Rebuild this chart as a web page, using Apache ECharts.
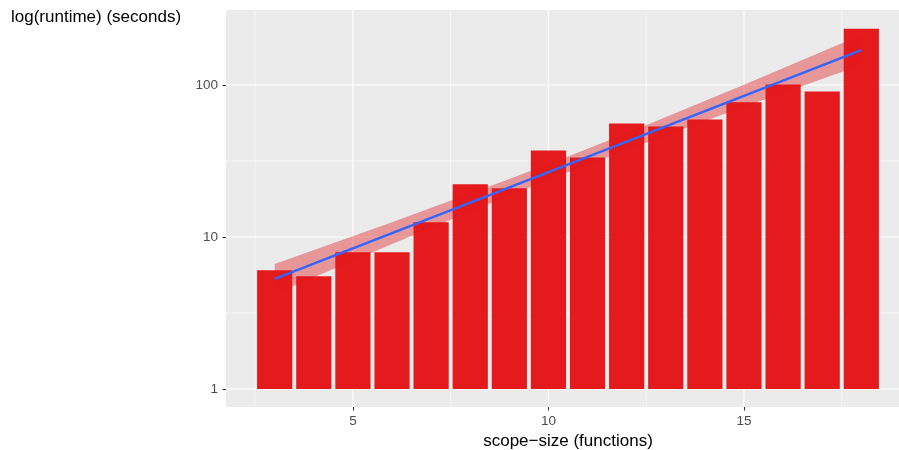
<!DOCTYPE html>
<html>
<head>
<meta charset="utf-8">
<script src="https://cdn.jsdelivr.net/npm/echarts@6/dist/echarts.min.js"></script>
<style>
  html, body { margin: 0; padding: 0; background: #ffffff; }
  #chart { width: 899px; height: 450px; }
</style>
</head>
<body>
<div id="chart"></div>
<script>
// Runtime per scope size (seconds)
const scopeSize = [3, 4, 5, 6, 7, 8, 9, 10, 11, 12, 13, 14, 15, 16, 17, 18];
const runtime   = [6.04, 5.52, 7.94, 7.94, 12.5, 22.2, 20.9, 37.1, 33.4, 55.8, 53.3, 59.3, 76.9, 100.6, 90.5, 234.6];

// Linear fit on the log scale, with its confidence band
const fitX = [3, 18];
const fitY = [5.30, 169.8];
const bandX    = [3, 6, 9, 10.5, 12, 15, 18];
const bandLow  = [4.22, 8.98, 18.72, 26.64, 37.44, 71.9, 135.3];
const bandHigh = [6.65, 12.51, 24.03, 33.79, 48.07, 100.2, 213.1];

// Axis breaks
const xTicks = [5, 10, 15];
const xMinor = [2.5, 7.5, 12.5, 17.5];
const yTicks = [1, 10, 100];
const yMinor = [3.162, 31.62];

const xMin = 1.755, xMax = 19.245;
const yMin = 0.761, yMax = 311.5;

const FONT = '"Liberation Sans", Arial, Helvetica, sans-serif';
const chart = echarts.init(document.getElementById('chart'), null, { renderer: 'canvas' });

// panel grid lines: [orientation, value, width]  (0 = vertical, 1 = horizontal)
const gridLines = [].concat(
  xMinor.map(v => [0, v, 0.6]),
  yMinor.map(v => [1, v, 0.6]),
  xTicks.map(v => [0, v, 1.2]),
  yTicks.map(v => [1, v, 1.2])
);

chart.setOption({
  animation: false,
  backgroundColor: '#ffffff',
  title: {
    text: 'log(runtime) (seconds)',
    left: 11,
    top: 9,
    padding: 0,
    textStyle: { fontFamily: FONT, fontSize: 17, fontWeight: 'normal', color: '#000000' }
  },
  grid: {
    left: 226, right: -11, top: 10, bottom: 43,
    outerBoundsMode: 'none',
    containLabel: false,
    show: true, backgroundColor: '#EBEBEB', borderWidth: 0
  },
  xAxis: {
    type: 'value',
    min: xMin, max: xMax,
    name: 'scope\u2212size (functions)',
    nameLocation: 'middle',
    nameGap: 24,
    nameTextStyle: { fontFamily: FONT, fontSize: 17, color: '#000000' },
    axisLine: { show: false },
    axisTick: { show: true, length: 3.5, lineStyle: { color: '#333333', width: 1.1 }, customValues: xTicks },
    axisLabel: { fontFamily: FONT, fontSize: 13.5, color: '#4D4D4D', margin: 7, customValues: xTicks },
    splitLine: { show: false }
  },
  yAxis: {
    type: 'log',
    logBase: 10,
    min: yMin, max: yMax,
    axisLine: { show: false },
    axisTick: { show: true, length: 3.5, lineStyle: { color: '#333333', width: 1.1 }, customValues: yTicks },
    axisLabel: {
      fontFamily: FONT, fontSize: 13.5, color: '#4D4D4D', margin: 8,
      customValues: yTicks,
      formatter: v => String(Math.round(v))
    },
    splitLine: { show: false }
  },
  series: [
    {
      type: 'custom',
      name: 'grid',
      z: 1,
      silent: true,
      data: gridLines,
      renderItem: function (params, api) {
        const vertical = api.value(0) === 0;
        const v = api.value(1);
        const a = vertical ? api.coord([v, yMin]) : api.coord([xMin, v]);
        const b = vertical ? api.coord([v, yMax]) : api.coord([xMax, v]);
        return {
          type: 'line',
          shape: { x1: a[0], y1: a[1], x2: b[0], y2: b[1] },
          style: { stroke: '#FFFFFF', lineWidth: api.value(2) }
        };
      }
    },
    {
      type: 'custom',
      name: 'runtime',
      z: 2,
      data: scopeSize.map((s, i) => [s, runtime[i]]),
      encode: { x: 0, y: 1 },
      renderItem: function (params, api) {
        const x = api.value(0), v = api.value(1);
        const a = api.coord([x - 0.45, v]);
        const b = api.coord([x + 0.45, 1]);
        return {
          type: 'rect',
          shape: { x: a[0], y: a[1], width: b[0] - a[0], height: b[1] - a[1] },
          style: { fill: '#E41A1C' }
        };
      }
    },
    {
      type: 'custom',
      name: 'band',
      z: 3,
      silent: true,
      data: bandX.map((x, i) => [x, bandLow[i], bandHigh[i]]),
      encode: { x: 0, y: [1, 2] },
      renderItem: function (params, api) {
        if (params.dataIndex !== 0) return null;
        const upper = bandX.map((x, i) => api.coord([x, bandHigh[i]]));
        const lower = bandX.map((x, i) => api.coord([x, bandLow[i]])).reverse();
        return {
          type: 'polygon',
          shape: { points: upper.concat(lower) },
          style: { fill: 'rgba(228,26,28,0.4)' }
        };
      }
    },
    {
      type: 'line',
      name: 'fit',
      z: 4,
      silent: true,
      data: fitX.map((x, i) => [x, fitY[i]]),
      showSymbol: false,
      symbol: 'none',
      lineStyle: { color: '#3366FF', width: 2.5 }
    }
  ]
});
</script>
</body>
</html>
